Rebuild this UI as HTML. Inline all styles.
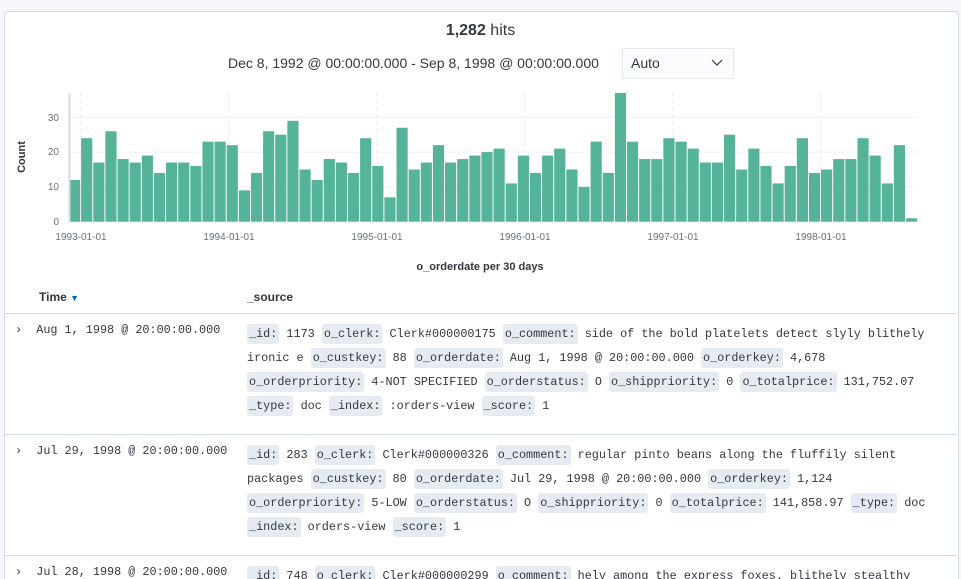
<!DOCTYPE html>
<html style="overflow:hidden"><head><meta charset="utf-8"><style>
html,body{margin:0;width:961px;height:579px;overflow:hidden}
body{background:#f5f7fa;font-family:"Liberation Sans",sans-serif;color:#343741;position:relative}
.panel{position:absolute;left:4px;top:11px;width:953px;height:570px;background:#fff;border:1px solid #d3dae6;border-radius:4px}
.a{position:absolute}
.m{font-family:"Liberation Mono",monospace;font-size:11.8px;white-space:pre;color:#343741}
.c{background:#e6ebf2;border-radius:3px;padding:3px 2px}
.line{position:absolute;left:247px;height:24px;line-height:24px}
.hr{position:absolute;left:5px;width:952px;height:1px;background:#d3dae6}
</style></head><body>
<div class="panel"></div>
<div class="a" style="left:0;width:961px;top:22px;text-align:center;font-size:16px"><b>1,282</b> hits</div>
<div class="a" style="left:228px;top:55px;font-size:14px">Dec 8, 1992 @ 00:00:00.000 - Sep 8, 1998 @ 00:00:00.000</div>
<div class="a" style="left:622px;top:48px;width:112px;height:31px;border:1px solid #e3e7ee;border-radius:2px;background:#fbfcfd;box-sizing:border-box;font-size:14px;line-height:29px;padding-left:8px">Auto<svg style="position:absolute;right:10px;top:10px" width="12" height="8"><path d="M1 1 L6 6 L11 1" stroke="#343741" fill="none" stroke-width="1.2"/></svg></div>
<svg class="a" style="left:0;top:0" width="961" height="280">
<g stroke="#eef0f3" stroke-width="1"><line x1="69" x2="918" y1="117.3" y2="117.3"/><line x1="69" x2="918" y1="152.1" y2="152.1"/><line x1="69" x2="918" y1="186.9" y2="186.9"/></g>
<g stroke="#e6e9ee" stroke-dasharray="4,3"><line x1="81" x2="81" y1="93" y2="222"/><line x1="229" x2="229" y1="93" y2="222"/><line x1="377" x2="377" y1="93" y2="222"/><line x1="525" x2="525" y1="93" y2="222"/><line x1="673" x2="673" y1="93" y2="222"/><line x1="821" x2="821" y1="93" y2="222"/></g>
<g transform="translate(69,221.7) scale(12.13,-3.48)" fill="#54b399">
<rect x="0" width="0.92" height="12"/><rect x="1" width="0.92" height="24"/><rect x="2" width="0.92" height="17"/><rect x="3" width="0.92" height="26"/><rect x="4" width="0.92" height="18"/><rect x="5" width="0.92" height="17"/><rect x="6" width="0.92" height="19"/><rect x="7" width="0.92" height="14"/><rect x="8" width="0.92" height="17"/><rect x="9" width="0.92" height="17"/><rect x="10" width="0.92" height="16"/><rect x="11" width="0.92" height="23"/><rect x="12" width="0.92" height="23"/><rect x="13" width="0.92" height="22"/><rect x="14" width="0.92" height="9"/><rect x="15" width="0.92" height="14"/><rect x="16" width="0.92" height="26"/><rect x="17" width="0.92" height="25"/><rect x="18" width="0.92" height="29"/><rect x="19" width="0.92" height="15"/><rect x="20" width="0.92" height="12"/><rect x="21" width="0.92" height="18"/><rect x="22" width="0.92" height="17"/><rect x="23" width="0.92" height="14"/><rect x="24" width="0.92" height="24"/><rect x="25" width="0.92" height="16"/><rect x="26" width="0.92" height="7"/><rect x="27" width="0.92" height="27"/><rect x="28" width="0.92" height="15"/><rect x="29" width="0.92" height="17"/><rect x="30" width="0.92" height="22"/><rect x="31" width="0.92" height="17"/><rect x="32" width="0.92" height="18"/><rect x="33" width="0.92" height="19"/><rect x="34" width="0.92" height="20"/><rect x="35" width="0.92" height="21"/><rect x="36" width="0.92" height="11"/><rect x="37" width="0.92" height="19"/><rect x="38" width="0.92" height="14"/><rect x="39" width="0.92" height="19"/><rect x="40" width="0.92" height="21"/><rect x="41" width="0.92" height="15"/><rect x="42" width="0.92" height="10"/><rect x="43" width="0.92" height="23"/><rect x="44" width="0.92" height="14"/><rect x="45" width="0.92" height="37"/><rect x="46" width="0.92" height="23"/><rect x="47" width="0.92" height="18"/><rect x="48" width="0.92" height="18"/><rect x="49" width="0.92" height="24"/><rect x="50" width="0.92" height="23"/><rect x="51" width="0.92" height="21"/><rect x="52" width="0.92" height="17"/><rect x="53" width="0.92" height="17"/><rect x="54" width="0.92" height="25"/><rect x="55" width="0.92" height="15"/><rect x="56" width="0.92" height="21"/><rect x="57" width="0.92" height="16"/><rect x="58" width="0.92" height="11"/><rect x="59" width="0.92" height="16"/><rect x="60" width="0.92" height="24"/><rect x="61" width="0.92" height="14"/><rect x="62" width="0.92" height="15"/><rect x="63" width="0.92" height="18"/><rect x="64" width="0.92" height="18"/><rect x="65" width="0.92" height="24"/><rect x="66" width="0.92" height="19"/><rect x="67" width="0.92" height="11"/><rect x="68" width="0.92" height="22"/><rect x="69" width="0.92" height="1"/>
</g>
<line x1="69.5" x2="69.5" y1="93" y2="222" stroke="#d3dae6" stroke-width="2"/>
<g font-size="10" fill="#69707d" text-anchor="end"><text x="59" y="225">0</text><text x="59" y="190">10</text><text x="59" y="155">20</text><text x="59" y="121">30</text></g>
<g font-size="10" fill="#69707d" text-anchor="middle"><text x="81" y="240">1993-01-01</text><text x="229" y="240">1994-01-01</text><text x="377" y="240">1995-01-01</text><text x="525" y="240">1996-01-01</text><text x="673" y="240">1997-01-01</text><text x="821" y="240">1998-01-01</text></g>
<text x="25" y="157" font-size="11" font-weight="bold" fill="#343741" text-anchor="middle" transform="rotate(-90 25 157)">Count</text>
<text x="480" y="270" font-size="11" font-weight="bold" fill="#343741" text-anchor="middle">o_orderdate per 30 days</text>
</svg>
<div class="a" style="left:39px;top:290px;font-size:12px;font-weight:bold">Time <span style="color:#006bb4;font-size:9px">▼</span></div>
<div class="a" style="left:247px;top:290px;font-size:12px;font-weight:bold">_source</div>
<div class="hr" style="top:313px"></div>
<div class="hr" style="top:434px"></div>
<div class="hr" style="top:555px"></div>
<div class="a m" style="left:15px;top:323px">›  Aug 1, 1998 @ 20:00:00.000</div>
<div class="line m" style="top:322px"><span class="c">_id:</span> 1173 <span class="c">o_clerk:</span> Clerk#000000175 <span class="c">o_comment:</span> side of the bold platelets detect slyly blithely</div>
<div class="line m" style="top:346px">ironic e <span class="c">o_custkey:</span> 88 <span class="c">o_orderdate:</span> Aug 1, 1998 @ 20:00:00.000 <span class="c">o_orderkey:</span> 4,678</div>
<div class="line m" style="top:370px"><span class="c">o_orderpriority:</span> 4-NOT SPECIFIED <span class="c">o_orderstatus:</span> O <span class="c">o_shippriority:</span> 0 <span class="c">o_totalprice:</span> 131,752.07</div>
<div class="line m" style="top:394px"><span class="c">_type:</span> doc <span class="c">_index:</span> :orders-view <span class="c">_score:</span> 1</div>
<div class="a m" style="left:15px;top:444px">›  Jul 29, 1998 @ 20:00:00.000</div>
<div class="line m" style="top:443px"><span class="c">_id:</span> 283 <span class="c">o_clerk:</span> Clerk#000000326 <span class="c">o_comment:</span> regular pinto beans along the fluffily silent</div>
<div class="line m" style="top:467px">packages <span class="c">o_custkey:</span> 80 <span class="c">o_orderdate:</span> Jul 29, 1998 @ 20:00:00.000 <span class="c">o_orderkey:</span> 1,124</div>
<div class="line m" style="top:491px"><span class="c">o_orderpriority:</span> 5-LOW <span class="c">o_orderstatus:</span> O <span class="c">o_shippriority:</span> 0 <span class="c">o_totalprice:</span> 141,858.97 <span class="c">_type:</span> doc</div>
<div class="line m" style="top:515px"><span class="c">_index:</span> orders-view <span class="c">_score:</span> 1</div>
<div class="a m" style="left:15px;top:565px">›  Jul 28, 1998 @ 20:00:00.000</div>
<div class="line m" style="top:564px"><span class="c">_id:</span> 748 <span class="c">o_clerk:</span> Clerk#000000299 <span class="c">o_comment:</span> hely among the express foxes. blithely stealthy</div>
</body></html>
